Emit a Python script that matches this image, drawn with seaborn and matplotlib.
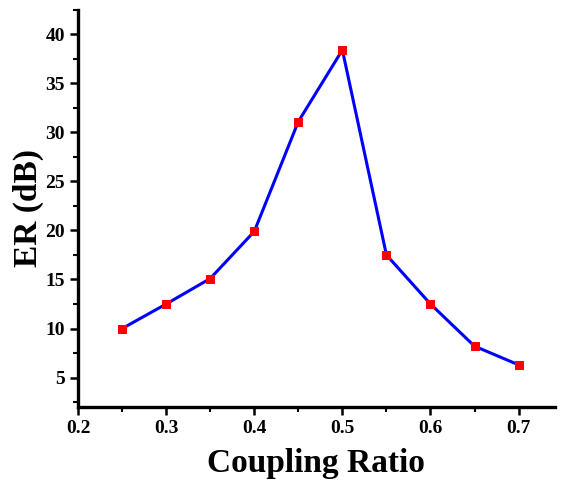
import matplotlib
matplotlib.use('Agg')
import matplotlib.pyplot as plt
import seaborn as sns
import pandas as pd
from matplotlib.ticker import MultipleLocator

# Data
coupling_ratio = [0.25, 0.30, 0.35, 0.40, 0.45, 0.50, 0.55, 0.60, 0.65, 0.70]
er_db = [10.0, 12.5, 15.1, 19.9, 31.1, 38.4, 17.5, 12.5, 8.2, 6.3]

dados = pd.DataFrame({'Coupling Ratio': coupling_ratio, 'ER (dB)': er_db})

sns.set_style('ticks')
plt.rcParams['font.family'] = ['Liberation Serif', 'DejaVu Serif']
plt.rcParams['font.weight'] = 'bold'
for k in ['text.color', 'axes.labelcolor', 'xtick.color', 'ytick.color', 'axes.edgecolor']:
    plt.rcParams[k] = 'black'

fig = plt.figure(figsize=(5.66, 4.88), dpi=100)
ax = fig.add_axes([0.138, 0.166, 0.842, 0.814])

sns.lineplot(data=dados, x='Coupling Ratio', y='ER (dB)', ax=ax,
             color='#0000ff', linewidth=2.2, marker='s', markersize=6,
             markerfacecolor='#ff0000', markeredgecolor='#ff0000')

ax.set_xlim(0.2, 0.741)
ax.set_ylim(2.0, 42.5)
ax.xaxis.set_major_locator(MultipleLocator(0.1))
ax.xaxis.set_minor_locator(MultipleLocator(0.05))
ax.yaxis.set_minor_locator(MultipleLocator(2.5))
ax.set_yticks([5, 10, 15, 20, 25, 30, 35, 40])

for s in ['top', 'right']:
    ax.spines[s].set_visible(False)
for s in ['left', 'bottom']:
    ax.spines[s].set_linewidth(2.4)
    ax.spines[s].set_color('black')

ax.tick_params(which='major', direction='out', length=6, width=1.8, labelsize=14, colors='black')
ax.tick_params(which='minor', direction='out', length=3.5, width=1.5, colors='black')
for lab in ax.get_xticklabels() + ax.get_yticklabels():
    lab.set_fontweight('bold')

ax.set_xlabel('Coupling Ratio', fontsize=24, fontweight='bold', labelpad=8, color='black')
ax.set_ylabel('ER (dB)', fontsize=24, fontweight='bold', labelpad=1, color='black')

fig.savefig('out.png', dpi=100)
